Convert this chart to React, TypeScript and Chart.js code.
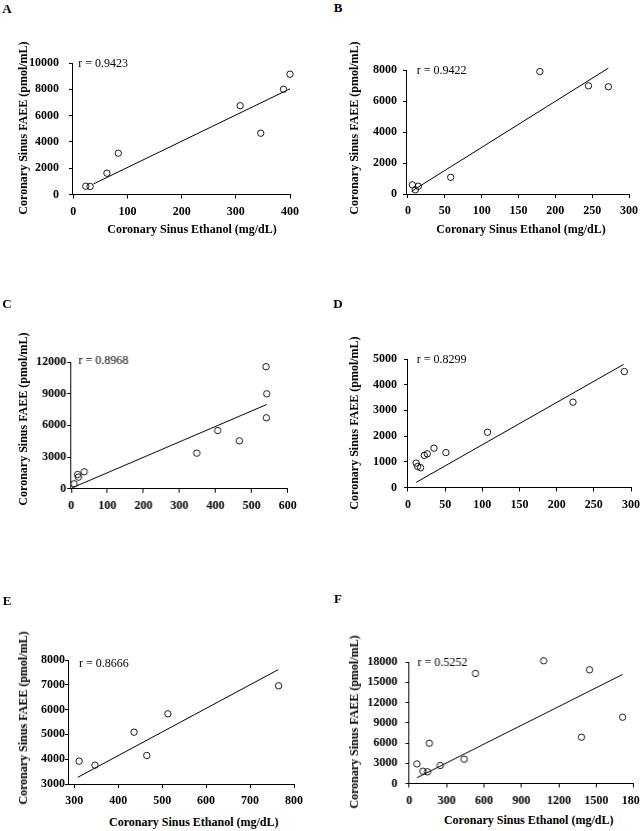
import React, { MutableRefObject, useEffect, useRef } from 'react';
import { Chart, registerables } from 'chart.js';

Chart.register(...registerables);

const SERIF = '"Liberation Serif", "Times New Roman", serif';

// Panel A
const aEthanol = [23, 31, 62, 83, 308, 346, 388, 400];
const aFaee = [630, 610, 1620, 3140, 6750, 4660, 8000, 9150];
const aFitX = [37, 400];
const aFitY = [800, 8040];
const aXTicks = [0, 100, 200, 300, 400];
const aYTicks = [0, 2000, 4000, 6000, 8000, 10000];

// Panel B
const bEthanol = [6, 10, 14, 58, 179, 245, 272];
const bFaee = [590, 270, 500, 1080, 7900, 6980, 6920];
const bFitX = [5, 272];
const bFitY = [180, 8120];
const bXTicks = [0, 50, 100, 150, 200, 250, 300];
const bYTicks = [0, 2000, 4000, 6000, 8000];

// Panel C
const cEthanol = [8, 18, 20, 36, 348, 406, 466, 541, 542, 540];
const cFaee = [470, 1350, 1100, 1610, 3370, 5520, 4540, 6720, 8990, 11550];
const cFitX = [3, 542];
const cFitY = [100, 7980];
const cXTicks = [0, 100, 200, 300, 400, 500, 600];
const cYTicks = [0, 3000, 6000, 9000, 12000];

// Panel D
const dEthanol = [11, 13, 17, 22, 26, 35, 51, 107, 222, 291];
const dFaee = [950, 820, 770, 1250, 1310, 1530, 1360, 2150, 3320, 4510];
const dFitX = [11, 290];
const dFitY = [200, 4790];
const dXTicks = [0, 50, 100, 150, 200, 250, 300];
const dYTicks = [0, 1000, 2000, 3000, 4000, 5000];

// Panel E
const eEthanol = [311, 347, 436, 465, 513, 765];
const eFaee = [3920, 3760, 5090, 4150, 5830, 6960];
const eFitX = [308, 764];
const eFitY = [3270, 7610];
const eXTicks = [300, 400, 500, 600, 700, 800];
const eYTicks = [3000, 4000, 5000, 6000, 7000, 8000];

// Panel F
const fEthanol = [62, 110, 147, 161, 249, 440, 531, 1078, 1446, 1381, 1711];
const fFaee = [2900, 1820, 1730, 5970, 2670, 3600, 16300, 18180, 16840, 6860, 9820];
const fFitX = [62, 1711];
const fFitY = [850, 16150];
const fXTicks = [0, 300, 600, 900, 1200, 1500, 1800];
const fYTicks = [0, 3000, 6000, 9000, 12000, 15000, 18000];

const X_TITLE = 'Coronary Sinus Ethanol (mg/dL)';
const Y_TITLE = 'Coronary Sinus FAEE (pmol/mL)';

type PanelDef = {
  letter: string;
  r: string;
  x: number[];
  y: number[];
  fitX: number[];
  fitY: number[];
  xTicks: number[];
  yTicks: number[];
  xMin: number;
  yMin: number;
  col: number;
  plot: { left: number; right: number; top: number; bottom: number };
  yPad: number;
  rDx: number;
  rDy: number;
  letterAt: [number, number];
  yTitleAt: [number, number];
  xTitleAt?: [number, number];
};

const panels: PanelDef[] = [
  {
    letter: 'A', r: '0.9423', x: aEthanol, y: aFaee, fitX: aFitX, fitY: aFitY,
    xTicks: aXTicks, yTicks: aYTicks, xMin: -2.5, yMin: 0, col: 0,
    plot: { left: 72, right: 290, top: 62.5, bottom: 194 },
    yPad: 10, rDx: 6.3, rDy: 0.8, letterAt: [7, 8], yTitleAt: [22.5, 128], xTitleAt: [192, 229.3],
  },
  {
    letter: 'B', r: '0.9422', x: bEthanol, y: bFaee, fitX: bFitX, fitY: bFitY,
    xTicks: bXTicks, yTicks: bYTicks, xMin: -2.7, yMin: 0, col: 320,
    plot: { left: 406, right: 629, top: 69.5, bottom: 193.5 },
    yPad: 6, rDx: 10.7, rDy: 1.2, letterAt: [338, 7], yTitleAt: [354, 127.5], xTitleAt: [521, 229.3],
  },
  {
    letter: 'C', r: '0.8968', x: cEthanol, y: cFaee, fitX: cFitX, fitY: cFitY,
    xTicks: cXTicks, yTicks: cYTicks, xMin: -2.8, yMin: 0, col: 0,
    plot: { left: 70, right: 286.7, top: 361.5, bottom: 488.3 },
    yPad: 1, rDx: 8.3, rDy: -0.8, letterAt: [7, 303.3], yTitleAt: [23, 419],
  },
  {
    letter: 'D', r: '0.8299', x: dEthanol, y: dFaee, fitX: dFitX, fitY: dFitY,
    xTicks: dXTicks, yTicks: dYTicks, xMin: -1.3, yMin: 0, col: 320,
    plot: { left: 407, right: 631, top: 358.5, bottom: 487 },
    yPad: 7, rDx: 9.7, rDy: 0.8, letterAt: [338, 303.3], yTitleAt: [354, 423],
  },
  {
    letter: 'E', r: '0.8666', x: eEthanol, y: eFaee, fitX: eFitX, fitY: eFitY,
    xTicks: eXTicks, yTicks: eYTicks, xMin: 285.7, yMin: 3000, col: 0,
    plot: { left: 68, right: 294, top: 660, bottom: 784 },
    yPad: 0, rDx: 11, rDy: 4, letterAt: [7, 600], yTitleAt: [22.5, 717.5], xTitleAt: [193.8, 822.3],
  },
  {
    letter: 'F', r: '0.5252', x: fEthanol, y: fFaee, fitX: fFitX, fitY: fFitY,
    xTicks: fXTicks, yTicks: fYTicks, xMin: -5.6, yMin: 0, col: 320,
    plot: { left: 408.3, right: 632.7, top: 661.5, bottom: 783 },
    yPad: 8, rDx: 9, rDy: 0.5, letterAt: [338, 598.3], yTitleAt: [354, 721.5], xTitleAt: [528.7, 820],
  },
];

const tickFont = { family: SERIF, size: 12, weight: 'bold' as const };
const plainNumber = (v: any) => String(v);

const Panel: React.FC<{ p: PanelDef }> = ({ p }) => {
  const canvasRef = useRef() as MutableRefObject<HTMLCanvasElement | null>;
  const boxLeft = p.col;
  const boxTop = p.plot.top - 20;
  const boxW = p.plot.right + 24 - boxLeft;
  const boxH = p.plot.bottom + 30 - boxTop;

  useEffect(() => {
    let chart: any = null;
    if (canvasRef.current) {
      const rLabel = {
        id: 'rLabel',
        afterDraw: (c: any) => {
          const ctx = c.ctx;
          ctx.save();
          ctx.font = '12px ' + SERIF;
          ctx.fillStyle = '#000';
          ctx.textAlign = 'left';
          ctx.textBaseline = 'middle';
          ctx.fillText('r = ' + p.r, c.chartArea.left + p.rDx, c.chartArea.top + p.rDy);
          ctx.restore();
        },
      };
      chart = new Chart(canvasRef.current, {
        type: 'scatter',
        data: {
          datasets: [
            {
              data: p.fitX.map((v, i) => ({ x: v, y: p.fitY[i] })),
              showLine: true,
              borderColor: '#000',
              borderWidth: 1,
              pointRadius: 0,
              clip: false,
              order: 2,
            },
            {
              data: p.x.map((v, i) => ({ x: v, y: p.y[i] })),
              borderColor: '#000',
              backgroundColor: 'rgba(0,0,0,0)',
              borderWidth: 0.9,
              pointRadius: 3.2,
              pointHoverRadius: 3.2,
              clip: false,
              order: 1,
            },
          ],
        },
        options: {
          animation: false,
          responsive: true,
          maintainAspectRatio: false,
          events: [],
          layout: { padding: { top: 20, right: 24, left: 0, bottom: 0 } },
          plugins: {
            legend: { display: false },
            tooltip: { enabled: false },
          },
          scales: {
            x: {
              type: 'linear',
              min: p.xMin,
              max: p.xTicks[p.xTicks.length - 1],
              afterBuildTicks: (s: any) => {
                s.ticks = p.xTicks.map((v) => ({ value: v }));
              },
              afterFit: (s: any) => {
                s.height = 30;
              },
              grid: { drawOnChartArea: false, drawTicks: true, tickLength: 4, color: '#000', lineWidth: 1 },
              border: { display: true, color: '#000', width: 1 },
              ticks: { color: '#000', padding: 6, font: tickFont, maxRotation: 0, autoSkip: false, callback: plainNumber },
            },
            y: {
              type: 'linear',
              min: p.yMin,
              max: p.yTicks[p.yTicks.length - 1],
              afterBuildTicks: (s: any) => {
                s.ticks = p.yTicks.map((v) => ({ value: v }));
              },
              afterFit: (s: any) => {
                s.width = p.plot.left - boxLeft;
              },
              grid: { drawOnChartArea: false, drawTicks: true, tickLength: 3, color: '#000', lineWidth: 1 },
              border: { display: true, color: '#000', width: 1 },
              ticks: { color: '#000', padding: p.yPad, font: tickFont, autoSkip: false, callback: plainNumber },
            },
          },
        },
        plugins: [rLabel],
      } as any);
    }
    return () => {
      if (chart) {
        chart.destroy();
      }
    };
  }, []);

  const center: React.CSSProperties = {
    position: 'absolute',
    fontFamily: SERIF,
    fontWeight: 'bold',
    lineHeight: 1,
    whiteSpace: 'nowrap',
    color: '#000',
  };

  return (
    <>
      <div style={{ position: 'absolute', left: boxLeft, top: boxTop, width: boxW, height: boxH }}>
        <canvas ref={canvasRef} />
      </div>
      <div style={{ ...center, fontSize: 13, left: p.letterAt[0], top: p.letterAt[1], transform: 'translate(-50%, -50%)' }}>
        {p.letter}
      </div>
      <div
        style={{
          ...center,
          fontSize: 12,
          left: p.yTitleAt[0],
          top: p.yTitleAt[1],
          transform: 'translate(-50%, -50%) rotate(-90deg)',
        }}
      >
        {Y_TITLE}
      </div>
      {p.xTitleAt && (
        <div style={{ ...center, fontSize: 12, left: p.xTitleAt[0], top: p.xTitleAt[1], transform: 'translate(-50%, -50%)' }}>
          {X_TITLE}
        </div>
      )}
    </>
  );
};

const App: React.FC = () => {
  return (
    <div
      style={{
        position: 'absolute',
        left: 0,
        top: 0,
        width: 640,
        height: 831,
        overflow: 'hidden',
        background: '#fff',
      }}
    >
      {panels.map((p) => (
        <Panel key={p.letter} p={p} />
      ))}
    </div>
  );
};

export default App;
